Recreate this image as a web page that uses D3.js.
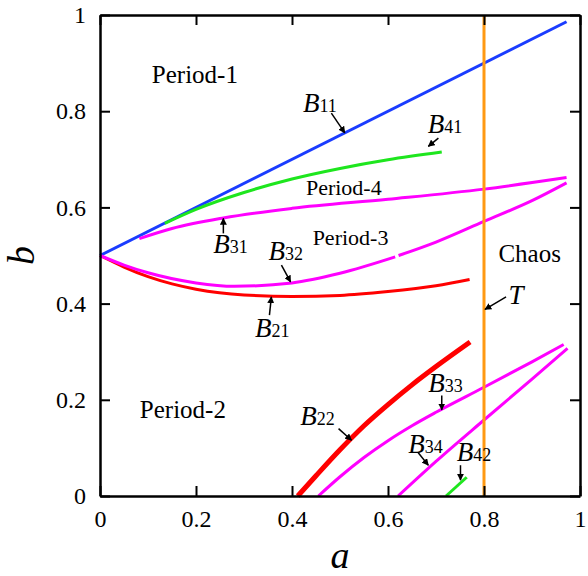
<!DOCTYPE html>
<html>
<head>
<meta charset="utf-8">
<script src="https://cdn.jsdelivr.net/npm/d3@7"></script>
<style>
  body { margin: 0; background: #fff; }
</style>
</head>
<body>
<div id="chart"></div>
<script>
// boundary curves, [a, b]
const B11 = [[0, 0.5], [0.972, 0.986]];
const B41 = [[0.135, 0.567], [0.2, 0.596], [0.3, 0.631], [0.4, 0.659], [0.5, 0.681], [0.6, 0.699], [0.712, 0.715]];
const B31 = [[0.082, 0.535], [0.15, 0.556], [0.257, 0.578], [0.4, 0.598], [0.6, 0.617], [0.8, 0.638], [0.972, 0.662]];
const B32 = [[0, 0.5], [0.05, 0.48], [0.1, 0.464], [0.2, 0.443], [0.28, 0.436], [0.4, 0.443], [0.5, 0.463], [0.615, 0.497], null,
             [0.622, 0.5], [0.7, 0.528], [0.8, 0.571], [0.9, 0.614], [0.972, 0.651]];
const B21 = [[0, 0.5], [0.05, 0.476], [0.1, 0.456], [0.15, 0.441], [0.2, 0.43], [0.3, 0.418], [0.4, 0.415], [0.5, 0.417],
             [0.6, 0.425], [0.7, 0.437], [0.77, 0.45]];
const B22 = [[0.412, 0], [0.45, 0.042], [0.5, 0.096], [0.55, 0.146], [0.6, 0.19], [0.65, 0.231], [0.7, 0.269], [0.771, 0.32]];
const B33 = [[0.455, 0], [0.5, 0.04], [0.55, 0.08], [0.6, 0.115], [0.65, 0.146], [0.7, 0.174], [0.8, 0.226], [0.9, 0.279], [0.966, 0.315]];
const B34 = [[0.621, 0], [0.7, 0.072], [0.8, 0.158], [0.9, 0.243], [0.974, 0.307]];
const B42 = [[0.721, 0], [0.764, 0.039]];
const T = [[0.8, 0], [0.8, 1]];

const xTicks = [0, 0.2, 0.4, 0.6, 0.8, 1];
const yTicks = [0, 0.2, 0.4, 0.6, 0.8, 1];

// region names: [text, a, b, font size]
const regions = [["Period-1", 0.108, 0.858, 25], ["Period-4", 0.429, 0.626, 22], ["Period-3", 0.443, 0.522, 22],
                 ["Chaos", 0.83, 0.487, 25], ["Period-2", 0.083, 0.163, 25]];
// curve labels: [main, sub, text a, text b, arrow from a,b, arrow to a,b]
const curveLabels = [
  ["B", "11", 0.423, 0.798, 0.482, 0.796, 0.51, 0.755],
  ["B", "41", 0.683, 0.755, 0.705, 0.744, 0.684, 0.727],
  ["B", "31", 0.236, 0.505, 0.257, 0.546, 0.257, 0.577],
  ["B", "32", 0.351, 0.491, 0.378, 0.48, 0.397, 0.445],
  ["B", "21", 0.323, 0.331, 0.353, 0.376, 0.357, 0.414],
  ["B", "22", 0.417, 0.148, 0.497, 0.14, 0.524, 0.116],
  ["B", "33", 0.684, 0.217, 0.712, 0.209, 0.712, 0.179],
  ["B", "34", 0.642, 0.09, 0.663, 0.09, 0.684, 0.064],
  ["B", "42", 0.743, 0.072, 0.751, 0.064, 0.751, 0.033],
  ["T", "", 0.851, 0.4, 0.846, 0.414, 0.802, 0.388]
];

const FONT = "Liberation Serif, DejaVu Serif, Noto Serif, serif";

const W = 588, H = 576;
const margin = {top: 15, right: 8, bottom: 80, left: 100};
const width = W - margin.left - margin.right;
const height = H - margin.top - margin.bottom;

const svg = d3.select("#chart").append("svg")
  .attr("width", W).attr("height", H)
  .attr("font-family", FONT);

svg.append("defs").append("marker")
  .attr("id", "arr")
  .attr("viewBox", "0 0 10 10")
  .attr("refX", 9).attr("refY", 5)
  .attr("markerWidth", 7).attr("markerHeight", 7)
  .attr("markerUnits", "userSpaceOnUse")
  .attr("orient", "auto")
  .append("path").attr("d", "M0,0 L10,5 L0,10 Z").attr("fill", "#000");

const g = svg.append("g").attr("transform", "translate(" + margin.left + "," + margin.top + ")");

const x = d3.scaleLinear().domain([0, 1]).range([0, width]);
const y = d3.scaleLinear().domain([0, 1]).range([height, 0]);

const line = d3.line()
  .defined(d => d !== null)
  .x(d => x(d[0])).y(d => y(d[1]))
  .curve(d3.curveMonotoneX);
const straight = d3.line().x(d => x(d[0])).y(d => y(d[1]));

const series = [
  [B21, "#ff0000", 3],
  [B11, "#1a3cff", 3],
  [B41, "#1ee61e", 3],
  [B31, "#ff00ff", 3],
  [B32, "#ff00ff", 3],
  [B22, "#ff0000", 5],
  [B33, "#ff00ff", 3],
  [B34, "#ff00ff", 3],
  [B42, "#1ee61e", 3],
  [T, "#ff9912", 3]
];

series.forEach(s => {
  g.append("path")
    .datum(s[0])
    .attr("fill", "none")
    .attr("stroke", s[1])
    .attr("stroke-width", s[2])
    .attr("d", s[0] === T ? straight : line);
});

// axes, ticks inside on all sides
const fmt = d => d === 0 || d === 1 ? String(d) : d3.format(".1f")(d);
const axB = g.append("g").attr("transform", "translate(0," + height + ")")
  .call(d3.axisBottom(x).tickValues(xTicks).tickFormat(fmt).tickSizeInner(-10).tickSizeOuter(0).tickPadding(14));
const axL = g.append("g")
  .call(d3.axisLeft(y).tickValues(yTicks).tickFormat(fmt).tickSizeInner(-10).tickSizeOuter(0).tickPadding(14));
const axT = g.append("g")
  .call(d3.axisTop(x).tickValues(xTicks).tickFormat("").tickSizeInner(-10).tickSizeOuter(0));
const axR = g.append("g").attr("transform", "translate(" + width + ",0)")
  .call(d3.axisRight(y).tickValues(yTicks).tickFormat("").tickSizeInner(-10).tickSizeOuter(0));

[axB, axL, axT, axR].forEach(a => {
  a.attr("font-family", FONT).attr("font-size", 24);
  a.selectAll(".domain").attr("stroke", "#000").attr("stroke-width", 2.5);
  a.selectAll(".tick line").attr("stroke", "#000").attr("stroke-width", 2);
  a.selectAll("text").attr("fill", "#000").attr("font-family", FONT).attr("font-size", 24);
});

// axis titles
g.append("text")
  .attr("x", x(0.5)).attr("y", height + 72)
  .attr("text-anchor", "middle")
  .attr("font-family", FONT).attr("font-size", 38).attr("font-style", "italic")
  .text("a");
g.append("text")
  .attr("transform", "translate(" + (-66) + "," + y(0.5) + ") rotate(-90)")
  .attr("text-anchor", "middle")
  .attr("font-family", FONT).attr("font-size", 38).attr("font-style", "italic")
  .text("b");

regions.forEach(r => {
  g.append("text")
    .attr("x", x(r[1])).attr("y", y(r[2]))
    .attr("font-family", FONT).attr("font-size", r[3])
    .text(r[0]);
});

curveLabels.forEach(c => {
  const t = g.append("text")
    .attr("x", x(c[2])).attr("y", y(c[3]))
    .attr("font-family", FONT);
  t.append("tspan").attr("font-style", "italic").attr("font-size", 27).text(c[0]);
  t.append("tspan").attr("font-size", 18).text(c[1]);
  g.append("line")
    .attr("x1", x(c[4])).attr("y1", y(c[5]))
    .attr("x2", x(c[6])).attr("y2", y(c[7]))
    .attr("stroke", "#000").attr("stroke-width", 1.5)
    .attr("marker-end", "url(#arr)");
});
</script>
</body>
</html>
